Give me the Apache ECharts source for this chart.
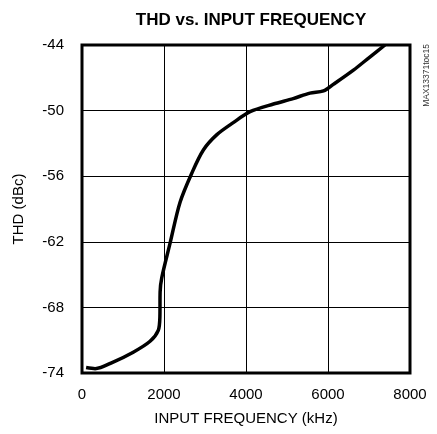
<!DOCTYPE html>
<html>
<head>
<meta charset="utf-8">
<title>THD vs. INPUT FREQUENCY</title>
<script src="https://cdn.jsdelivr.net/npm/echarts@6/dist/echarts.min.js"></script>
<style>body{margin:0;background:#fff;}</style>
</head>
<body>
<div id="main" style="width:437px;height:434px;"></div>
<script type="text/javascript">
var freq = [100, 320, 760, 1250, 1660, 1860, 1900, 1905, 1945, 2150, 2390, 2680, 2960, 3290, 3690, 4100, 4670, 5150, 5560, 5890, 6130, 6620, 7020, 7390];
var thd  = [-73.5, -73.6, -73.0, -72.1, -71.1, -70.1, -68.8, -66.6, -65.3, -62.1, -58.4, -55.7, -53.6, -52.2, -51.1, -50.1, -49.4, -48.9, -48.4, -48.2, -47.6, -46.3, -45.1, -44.0];

var font = '"Liberation Sans Narrow", "Liberation Sans", Arial';
var pts = [];
for (var i = 0; i < freq.length; i++) pts.push([freq[i], thd[i]]);

var myChart = echarts.init(document.getElementById('main'));
option = {
    animation: false,
    title: {
        text: 'THD vs. INPUT FREQUENCY',
        left: 246, top: 7, textAlign: 'center',
        textStyle: { fontFamily: font, fontWeight: 'bold', fontSize: 17, color: '#000' }
    },
    grid: {
        left: 82, top: 45, width: 328, height: 328,
        show: true, borderWidth: 3, borderColor: '#000'
    },
    xAxis: {
        type: 'value', min: 0, max: 8000, interval: 2000,
        name: 'INPUT FREQUENCY (kHz)', nameLocation: 'middle', nameGap: 38,
        nameTextStyle: { fontFamily: font, fontSize: 15, color: '#000' },
        axisLine: { show: false }, axisTick: { show: false },
        axisLabel: { fontFamily: font, fontSize: 15, color: '#000', margin: 14,
            formatter: function (v) { return String(v); } },
        splitLine: { lineStyle: { color: '#000', width: 1 } }
    },
    yAxis: {
        type: 'value', min: -74, max: -44, interval: 6,
        name: 'THD (dBc)', nameLocation: 'middle', nameGap: 56,
        nameTextStyle: { fontFamily: font, fontSize: 15, color: '#000' },
        axisLine: { show: false }, axisTick: { show: false },
        axisLabel: { fontFamily: font, fontSize: 15, color: '#000', margin: 18 },
        splitLine: { lineStyle: { color: '#000', width: 1 } }
    },
    graphic: [{
        type: 'text', left: 422, top: 44, rotation: Math.PI / 2,
        style: { text: 'MAX13371toc15', fontFamily: font, fontSize: 8.5, fill: '#333' }
    }],
    series: [{
        type: 'line', data: pts, smooth: 0.3, symbol: 'none',
        lineStyle: { color: '#000', width: 3.5 }
    }]
};
myChart.setOption(option);
</script>
</body>
</html>
